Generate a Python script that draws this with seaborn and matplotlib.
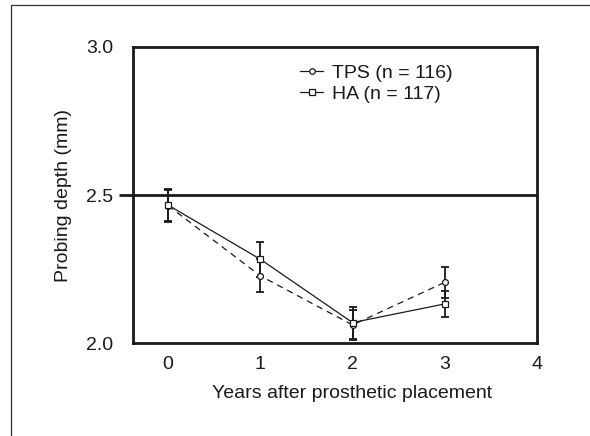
import numpy as np
import pandas as pd
import matplotlib
matplotlib.use("Agg")
import matplotlib.pyplot as plt
from matplotlib.lines import Line2D
import seaborn as sns

years = [0, 1, 2, 3]
tps_mean = [2.464, 2.227, 2.061, 2.205]
tps_err = [0.054, 0.056, 0.051, 0.053]
ha_mean = [2.466, 2.283, 2.069, 2.132]
ha_err = [0.053, 0.059, 0.054, 0.045]
series_labels = ["TPS (n = 116)", "HA (n = 117)"]
yticks = [2.0, 2.5, 3.0]
xticks = [0, 1, 2, 3, 4]

sns.set_theme(style="white")
plt.rcParams['font.family'] = ['Liberation Sans', 'DejaVu Sans']

W, H = 590, 436
fig = plt.figure(figsize=(W / 100, H / 100), dpi=100)
ax = fig.add_axes([133 / W, 1 - 343 / H, (537 - 133) / W, (343 - 47) / H])

df = pd.DataFrame({
    "year": years * 2,
    "depth": tps_mean + ha_mean,
    "group": [series_labels[0]] * 4 + [series_labels[1]] * 4,
})

ink = "#1a1a1a"
for m, e, lab in [(tps_mean, tps_err, series_labels[0]), (ha_mean, ha_err, series_labels[1])]:
    ax.errorbar(years, m, yerr=e, fmt="none", ecolor=ink, elinewidth=1.3,
                capsize=2.6, capthick=1.3, zorder=2)

sns.lineplot(data=df, x="year", y="depth", style="group", hue="group",
             palette=[ink, ink], dashes={series_labels[0]: (5, 4), series_labels[1]: ""},
             markers={series_labels[0]: "o", series_labels[1]: "s"},
             markersize=4.2, markerfacecolor="white", markeredgecolor=ink,
             markeredgewidth=0.9, linewidth=0.9, ax=ax, legend=False, zorder=3)

ax.axhline(2.5, color=ink, linewidth=2.0, zorder=1)

fs = 14
ax.set_xlim(-0.38, 4.0)
ax.set_ylim(2.0, 3.0)
ax.set_xticks(xticks)
ax.set_xticklabels([str(x) for x in xticks])
ax.set_yticks(yticks)
ax.set_yticklabels(["2.0", "2.5", "3.0"])
ax.tick_params(axis="x", length=0, pad=9, labelsize=fs, colors=ink)
ax.tick_params(axis="y", left=True, length=10, width=2.0, pad=4, labelsize=fs,
               colors=ink, direction="out")
yt = ax.yaxis.get_major_ticks()
yt[0].tick1line.set_visible(False)
yt[2].tick1line.set_visible(False)

for s in ax.spines.values():
    s.set_visible(True)
    s.set_color(ink)
    s.set_linewidth(2.0)

ax.set_xlabel("Years after prosthetic placement", fontsize=fs, color=ink)
ax.set_ylabel("Probing depth (mm)", fontsize=fs, color=ink)
ax.xaxis.set_label_coords((352 - 133) / (537 - 133), -(385 - 343) / (343 - 47))
ax.yaxis.set_label_coords(-(133 - 72) / (537 - 133), (343 - 196) / (343 - 47))

handles = [
    Line2D([], [], color=ink, linewidth=0.9, marker="o", markersize=4,
           markerfacecolor="white", markeredgecolor=ink, markeredgewidth=0.9),
    Line2D([], [], color=ink, linewidth=0.9, marker="s", markersize=3.8,
           markerfacecolor="white", markeredgecolor=ink, markeredgewidth=0.9),
]
leg = ax.legend(handles, series_labels, loc="upper left",
                bbox_to_anchor=((300 - 133) / (537 - 133), 1 - (64 - 47) / (343 - 47)),
                frameon=False, fontsize=fs, handlelength=1.2, handletextpad=0.45,
                labelspacing=0.2, borderaxespad=0, borderpad=0)
for t in leg.get_texts():
    t.set_color(ink)

fig.add_artist(Line2D([11 / W, 1.0], [1 - 5 / H, 1 - 5 / H], color="#333333",
                      linewidth=0.9, transform=fig.transFigure))
fig.add_artist(Line2D([11 / W, 11 / W], [0, 1 - 5 / H], color="#333333",
                      linewidth=0.9, transform=fig.transFigure))

fig.savefig("out.png", dpi=100, facecolor="white")
